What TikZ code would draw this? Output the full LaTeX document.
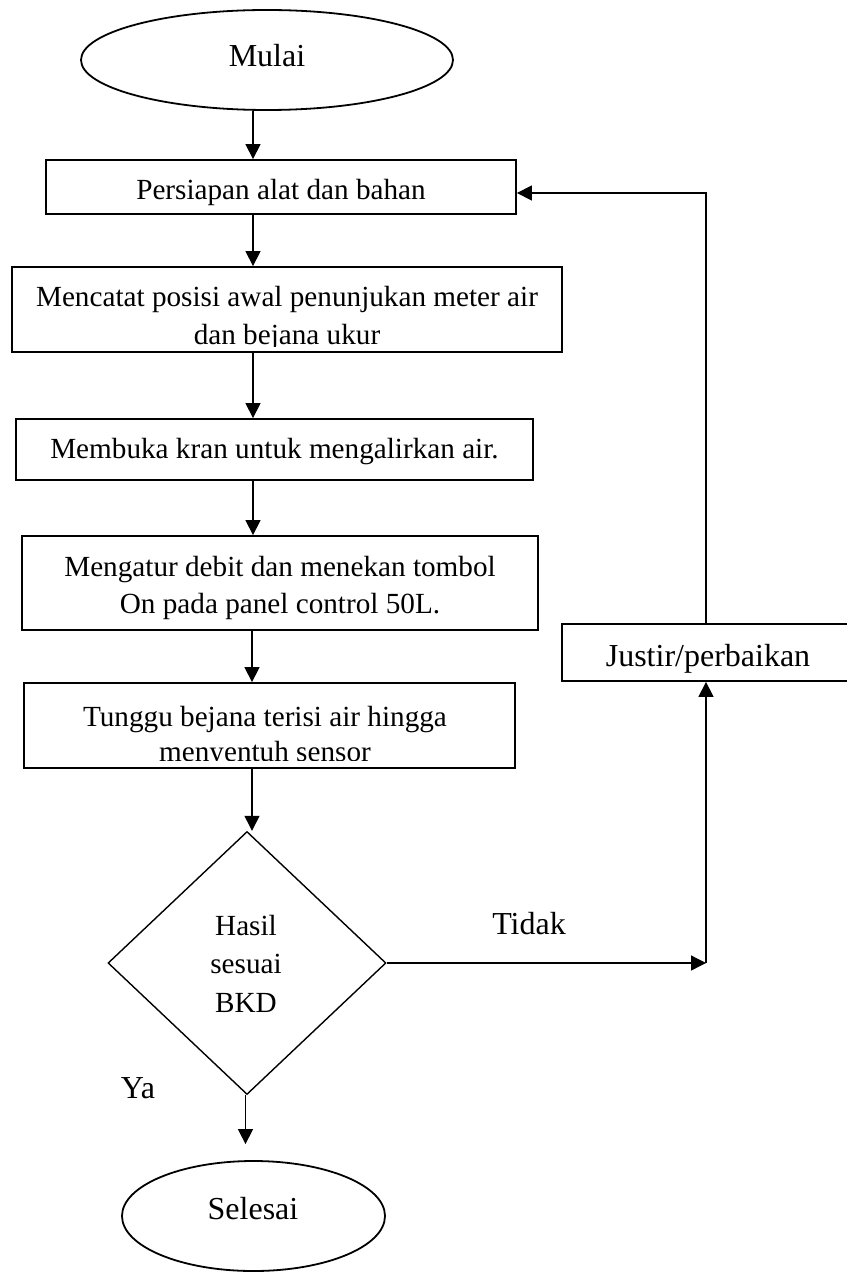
\documentclass[tikz,border=0pt]{standalone}
\usepackage{fontspec}
\setmainfont{Liberation Serif}
\usetikzlibrary{shapes.geometric,arrows.meta}
\begin{document}
\begin{tikzpicture}[x=0.5pt,y=-0.5pt,
  box/.style={draw, line width=0.9pt, rectangle, inner sep=0pt},
  term/.style={draw, line width=0.9pt, ellipse, inner sep=0pt},
  decision/.style={draw, line width=0.7pt, diamond, inner sep=0pt},
  txt/.style={anchor=base, inner sep=0pt, font=\fontsize{14.6pt}{17.5pt}\selectfont},
  lbl/.style={anchor=base, inner sep=0pt, font=\fontsize{16pt}{19pt}\selectfont},
  arr/.style={line width=0.65pt, -{Triangle[length=7.5pt,width=7.5pt]}},
  ln/.style={line width=0.65pt}]

\useasboundingbox (0,0) rectangle (846,1273);

% shapes
\node[term, minimum width=186pt, minimum height=50pt] (mul) at (267,60) {};
\node[box, minimum width=235pt, minimum height=27pt] (b1) at (281,187) {};
\node[box, minimum width=275pt, minimum height=42.5pt] (b2) at (287,309.5) {};
\node[box, minimum width=258.5pt, minimum height=30.5pt] (b3) at (274.5,449.5) {};
\node[box, minimum width=258pt, minimum height=47pt] (b4) at (280,583) {};
\node[box, minimum width=245.5pt, minimum height=42.5pt] (b5) at (269.5,725.5) {};
\node[decision, minimum width=139pt, minimum height=131.5pt] (dia) at (247,963) {};
\node[box, minimum width=146pt, minimum height=28.5pt] (jus) at (708,652.5) {};
\node[term, minimum width=131.5pt, minimum height=55pt] (sel) at (253.5,1216) {};

% texts
\node[lbl] (tmul) at (267,67) {Mulai};
\node[txt] (t1) at (281,200) {Persiapan alat dan bahan};
\node[txt] (t2a) at (287,306) {Mencatat posisi awal penunjukan meter air};
\begin{scope}
  \clip (14,269) rectangle (560,346);
  \node[txt] (t2b) at (287,344) {dan bejana ukur};
\end{scope}
\node[txt] (t3) at (274.5,458) {Membuka kran untuk mengalirkan air.};
\node[txt] (t4a) at (280,576) {Mengatur debit dan menekan tombol};
\node[txt] (t4b) at (280,613) {On pada panel control 50L.};
\node[txt] (t5a) at (265,726) {Tunggu bejana terisi air hingga};
\begin{scope}
  \clip (26,685) rectangle (513,760);
  \node[txt] (t5b) at (265,761) {menyentuh sensor};
\end{scope}
\node[txt] (tda) at (246,935) {Hasil};
\node[txt] (tdb) at (246,973) {sesuai};
\node[txt] (tdc) at (246,1012) {BKD};
\node[lbl] (tjus) at (708,666) {Justir/perbaikan};
\node[lbl] (tsel) at (253,1219) {Selesai};
\node[lbl] (tya) at (138,1098) {Ya};
\node[lbl] (ttd) at (529,934) {Tidak};

% connector columns and corners
\coordinate (c1) at (253,0);
\coordinate (c2) at (252,0);
\coordinate (c3) at (245.5,0);
\coordinate (crn) at (706,965);
\coordinate (fb) at (706,193);

% main flow
\draw[arr] (mul.south -| c1) -- (b1.north -| c1);
\draw[arr] (b1.south -| c1) -- (b2.north -| c1);
\draw[arr] (b2.south -| c1) -- (b3.north -| c1);
\draw[arr] (b3.south -| c1) -- (b4.north -| c1);
\draw[arr] (b4.south -| c2) -- (b5.north -| c2);
\draw[arr] (b5.south -| c2) -- (dia.north -| c2);
\draw[arr, shorten >=8pt] (dia.south -| c3) -- (sel.north -| c3);

% rejection loop
\draw[arr] (dia.east) -- (dia.east -| crn);
\draw[arr] (dia.east -| crn) -- (jus.south -| crn);
\draw[arr] (jus.north -| fb) -- (fb) -- (b1.east |- fb);
\end{tikzpicture}
\end{document}
